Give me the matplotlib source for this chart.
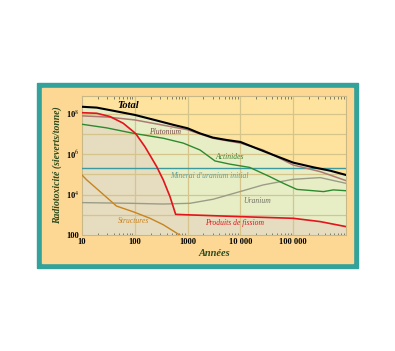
import numpy as np
import matplotlib.pyplot as plt
from matplotlib.patches import Rectangle
from matplotlib.ticker import FixedLocator, LogLocator, NullFormatter

# Données (années, Sv/tonne)
total_x = [10, 19, 39, 100, 260, 540, 1000, 1700, 3000, 5500, 10000, 20000, 42000, 100000, 240000, 500000, 1e6]
total_y = [2.2e8, 2.0e8, 1.4e8, 8.7e7, 4.6e7, 2.8e7, 1.9e7, 1.07e7, 6.6e6, 5.0e6, 4.0e6, 1.95e6, 9.1e5, 3.8e5, 2.24e5, 1.52e5, 9.3e4]

pu_x = [10, 31, 100, 260, 1000, 3000, 10000, 27000, 100000, 325000, 1e6]
pu_y = [7.8e7, 6.8e7, 4.9e7, 3.1e7, 1.6e7, 6.1e6, 3.5e6, 1.6e6, 2.9e5, 1.36e5, 4.9e4]

pf_x = [10, 19, 34, 60, 94, 105, 156, 260, 347, 464, 594, 960, 9800, 100000, 325000, 1e6]
pf_y = [1.12e8, 1.05e8, 7.2e7, 3.4e7, 1.3e7, 1.0e7, 2.3e6, 2.4e5, 5.2e4, 7.9e3, 1.05e3, 1.0e3, 8.1e2, 6.7e2, 4.6e2, 2.6e2]

act_x = [10, 29, 94, 347, 830, 1720, 3300, 6300, 15000, 36000, 65000, 117000, 240000, 375000, 575000, 1e6]
act_y = [3.0e7, 2.0e7, 1.07e7, 6.1e6, 3.5e6, 1.6e6, 4.6e5, 3.2e5, 2.2e5, 7.7e4, 3.6e4, 1.8e4, 1.55e4, 1.4e4, 1.7e4, 1.55e4]

minerai = 2.0e5

u_x = [10, 81, 347, 1110, 3070, 9800, 27000, 100000, 325000, 1e6]
u_y = [4.0e3, 3.7e3, 3.4e3, 3.7e3, 5.9e3, 1.4e4, 3.0e4, 5.7e4, 6.9e4, 3.6e4]

st_x = [10, 12.3, 22, 45, 94, 194, 347, 668, 760]
st_y = [9.3e4, 5.3e4, 1.4e4, 2.7e3, 1.4e3, 6.7e2, 3.2e2, 1.1e2, 90]

x_ticks = [10, 100, 1000, 10000, 100000]
x_labels = ['10', '100', '1000', '10 000', '100 000']
y_ticks = [1e2, 1e4, 1e6, 1e8]
y_labels = ['100', '10$^4$', '10$^6$', '10$^8$']

plt.rcParams['font.family'] = ['Liberation Serif', 'DejaVu Serif']
plt.rcParams['mathtext.fontset'] = 'stix'

W, H = 395, 351
fig = plt.figure(figsize=(W / 100, H / 100), dpi=100)
fig.patch.set_facecolor('white')

# cadre turquoise + panneau orange
fig.patches.append(Rectangle((37 / W, 1 - 268 / H), 321 / W, 185 / H,
                             transform=fig.transFigure, color='#33a29a', zorder=-3))
fig.patches.append(Rectangle((42 / W, 1 - 263 / H), 311 / W, 175 / H,
                             transform=fig.transFigure, color='#fcd894', zorder=-2))

ax = fig.add_axes([82 / W, 1 - 235 / H, 264 / W, 139 / H])
ax.set_facecolor('#fde39e')
ax.set_xscale('log')
ax.set_yscale('log')
ax.set_xlim(10, 1e6)
ax.set_ylim(100, 7.5e8)

# zones colorées
ax.fill(np.concatenate([total_x, pf_x[::-1]]), np.concatenate([total_y, pf_y[::-1]]),
        color='#e7eec6', lw=0, zorder=1)
ax.fill(np.concatenate([pf_x, [1e6, 10]]), np.concatenate([pf_y, [10, 10]]),
        color='#e6dcc0', lw=0, zorder=1)

# grille
for v in [1e3, 1e4, 1e5, 1e6, 1e7, 1e8]:
    ax.axhline(v, color='#d6c58a', lw=0.9, zorder=2)
for v in [100, 1000, 10000, 100000]:
    ax.axvline(v, color='#d6c58a', lw=0.9, zorder=2)

ax.axhline(minerai, color='#3a9a9e', lw=1.0, zorder=3)
ax.plot(u_x, u_y, color='#9c9c86', lw=1.0, zorder=3)
ax.plot(st_x, st_y, color='#c8841e', lw=1.0, zorder=3)
ax.plot(act_x, act_y, color='#2e8a2e', lw=1.0, zorder=3)
ax.plot(pu_x, pu_y, color='#ad7a72', lw=1.1, zorder=3)
ax.plot(pf_x, pf_y, color='#e3141c', lw=1.2, zorder=4)
ax.plot(total_x, total_y, color='black', lw=1.5, zorder=5)

# étiquettes des courbes
ax.text(75, 2.6e8, 'Total', fontsize=7.5, fontweight='bold', style='italic', ha='center', va='center', zorder=6)
ax.text(370, 1.3e7, 'Plutonium', fontsize=5.5, style='italic', color='#7a4a4a', ha='center', va='center', zorder=6)
ax.text(6300, 7.6e5, 'Actinides', fontsize=5.5, style='italic', color='#3f7f2f', ha='center', va='center', zorder=6)
ax.text(2600, 8.7e4, "Minerai d'uranium initial", fontsize=5.5, style='italic', color='#5aa0a0', ha='center', va='center', zorder=6)
ax.text(20500, 5.0e3, 'Uranium', fontsize=5.5, style='italic', color='#707060', ha='center', va='center', zorder=6)
ax.text(93, 4.8e2, 'Structures', fontsize=5.5, style='italic', color='#c8841e', ha='center', va='center', zorder=6)
ax.text(7900, 3.8e2, 'Produits de fissiom', fontsize=5.5, style='italic', color='#e3141c', ha='center', va='center', zorder=6)

# axes et graduations
ax.xaxis.set_major_locator(FixedLocator(x_ticks))
ax.set_xticklabels(x_labels)
ax.xaxis.set_minor_locator(LogLocator(base=10, subs=np.arange(2, 10)))
ax.xaxis.set_minor_formatter(NullFormatter())
ax.yaxis.set_major_locator(FixedLocator(y_ticks))
ax.set_yticklabels(y_labels)
ax.yaxis.set_minor_locator(FixedLocator([1e3, 1e5, 1e7]))
ax.yaxis.set_minor_formatter(NullFormatter())
ax.tick_params(which='both', direction='in', top=True, right=True, color='#555544',
               labelsize=6, pad=2)
ax.tick_params(which='major', length=3, width=0.6)
ax.tick_params(which='minor', length=1.8, width=0.5)
for lab in ax.get_xticklabels() + ax.get_yticklabels():
    lab.set_fontweight('bold')
for s in ax.spines.values():
    s.set_color('#c8b888')
    s.set_linewidth(0.8)

ax.set_xlabel('Années', fontsize=7.5, fontweight='bold', style='italic', color='#2c4a1c', labelpad=2)
ax.set_ylabel('Radiotoxicité (sieverts/tonne)', fontsize=7, fontweight='bold', style='italic',
              color='#2c4a1c', labelpad=3)

fig.savefig('out.png', dpi=100)
